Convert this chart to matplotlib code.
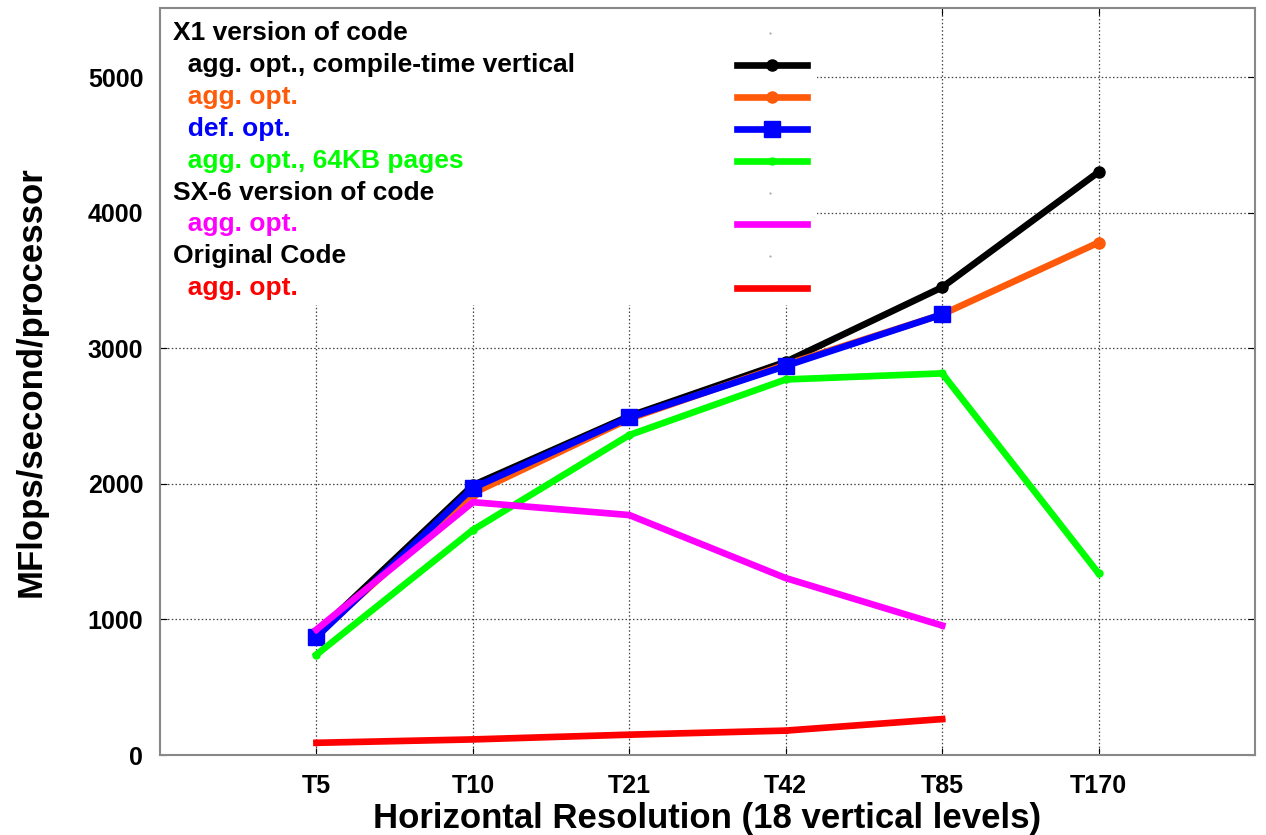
import matplotlib
matplotlib.use('Agg')
import matplotlib.pyplot as plt
from matplotlib.patches import Rectangle

plt.rcParams['font.family'] = ['Liberation Sans', 'DejaVu Sans']
plt.rcParams['font.weight'] = 'bold'

resolutions = ['T5', 'T10', 'T21', 'T42', 'T85', 'T170']
x_pos = [1, 2, 3, 4, 5, 6]

x1_agg_compile = [900, 1990, 2500, 2900, 3450, 4300]
x1_agg = [880, 1930, 2480, 2880, 3250, 3780]
x1_def = [870, 1970, 2490, 2870, 3250]
x1_agg_64kb = [740, 1660, 2360, 2770, 2815, 1340]
sx6_agg = [925, 1865, 1770, 1305, 955]
orig_agg = [90, 115, 150, 180, 265]

y_ticks = [0, 1000, 2000, 3000, 4000, 5000]

series = [
    # label, values, colour, marker, marker size
    ('agg. opt., compile-time vertical', x1_agg_compile, '#000000', 'o', 8),
    ('agg. opt.', x1_agg, '#ff5a0a', 'o', 8),
    ('def. opt.', x1_def, '#0000ff', 's', 11),
    ('agg. opt., 64KB pages', x1_agg_64kb, '#00ff00', 'o', 5),
    ('agg. opt.', sx6_agg, '#ff00ff', 'o', 3),
    ('agg. opt.', orig_agg, '#ff0000', 'o', 3),
]

# legend rows: (text, colour, index into series or None for a header)
legend_rows = [
    ('X1 version of code', '#000000', None),
    ('  agg. opt., compile-time vertical', '#000000', 0),
    ('  agg. opt.', '#ff5a0a', 1),
    ('  def. opt.', '#0000ff', 2),
    ('  agg. opt., 64KB pages', '#00ff00', 3),
    ('SX-6 version of code', '#000000', None),
    ('  agg. opt.', '#ff00ff', 4),
    ('Original Code', '#000000', None),
    ('  agg. opt.', '#ff0000', 5),
]

fig = plt.figure(figsize=(12.66, 8.35), dpi=100)
ax = fig.add_axes([0.1264, 0.0958, 0.8649, 0.8946])

draw_order = [3, 4, 5, 1, 0, 2]
for i in draw_order:
    label, vals, col, mk, ms = series[i]
    ax.plot(x_pos[:len(vals)], vals, color=col, lw=4.8, marker=mk,
            markersize=ms, zorder=3 + i * 0.1)

ax.set_xlim(0, 7)
ax.set_ylim(0, 5510)
ax.set_xticks(x_pos)
ax.set_xticklabels(resolutions, fontsize=18, fontweight='bold')
ax.set_yticks(y_ticks)
ax.set_yticklabels([str(v) for v in y_ticks], fontsize=18, fontweight='bold')
ax.tick_params(axis='x', direction='in', top=True, length=5, pad=14)
ax.tick_params(axis='y', direction='in', right=True, length=5, pad=12)
ax.grid(True, color='#444444', linestyle=(0, (1.2, 1.8)), linewidth=0.9, zorder=1)
for sp in ax.spines.values():
    sp.set_color('#888888')
    sp.set_linewidth(1.5)

ax.set_xlabel('Horizontal Resolution (18 vertical levels)', fontsize=25,
              fontweight='bold')
ax.set_ylabel('MFlops/second/processor', fontsize=25, fontweight='bold')
ax.xaxis.set_label_coords(0.5, -0.063)
ax.yaxis.set_label_coords(-0.103, 0.5)

# legend box drawn by hand so text stays left and handles stay right
ax.add_patch(Rectangle((0.0, 0.603), 0.6, 0.397, transform=ax.transAxes,
                       facecolor='white', edgecolor='none', zorder=2))
row_top = 0.967
row_step = 0.0428
for k, (txt, col, idx) in enumerate(legend_rows):
    yy = row_top - k * row_step
    ax.text(0.012, yy, txt, transform=ax.transAxes, color=col, fontsize=19,
            fontweight='bold', va='center', ha='left', zorder=4)
    if idx is None:
        ax.plot([0.557], [yy], transform=ax.transAxes, marker='.', markersize=1,
                color='#999999', zorder=4, clip_on=False)
    else:
        _, _, c, mk, ms = series[idx]
        ax.plot([0.527, 0.591], [yy, yy], transform=ax.transAxes, color=c,
                lw=4.8, zorder=4, clip_on=False)
        ax.plot([0.559], [yy], transform=ax.transAxes, color=c, marker=mk,
                markersize=ms, zorder=4, clip_on=False)

fig.savefig('out.png', dpi=100, facecolor='white')
